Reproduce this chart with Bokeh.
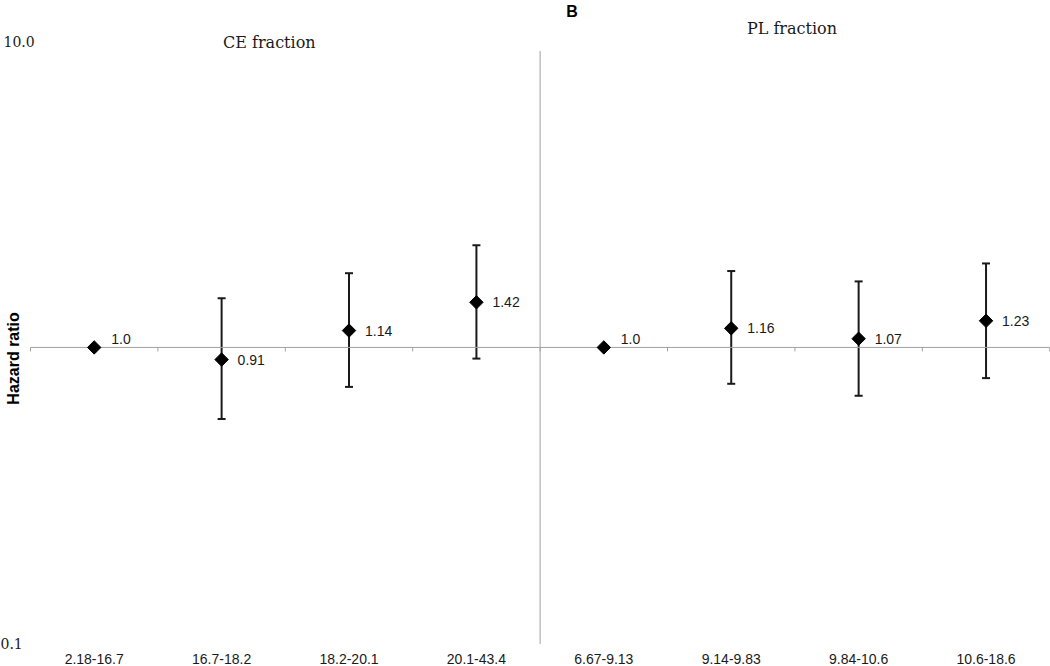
import numpy as np
from bokeh.plotting import figure
from bokeh.models import ColumnDataSource, Whisker, TeeHead, Range1d
from bokeh.core.properties import value
from bokeh.embed import file_html
from bokeh.resources import INLINE

# ---------------- data ----------------
categories = ["2.18-16.7", "16.7-18.2", "18.2-20.1", "20.1-43.4",
              "6.67-9.13", "9.14-9.83", "9.84-10.6", "10.6-18.6"]
hazard_ratio = [1.0, 0.91, 1.14, 1.42, 1.0, 1.16, 1.07, 1.23]
hr_labels = ["1.0", "0.91", "1.14", "1.42", "1.0", "1.16", "1.07", "1.23"]
ci_lower = [None, 0.574, 0.736, 0.917, None, 0.754, 0.687, 0.788]
ci_upper = [None, 1.466, 1.78, 2.21, None, 1.81, 1.67, 1.92]
group_titles = ["CE fraction", "PL fraction"]
group_size = 4
y_ticks = [10.0, 0.1]
y_tick_labels = ["10.0", "0.1"]
reference_value = 1.0
panel_label = "B"

# ---------------- layout ----------------
SANS = value("Liberation Sans")
SERIF = value("DejaVu Serif")
X_START, X_END = -0.2355, 8.006
Y_START, Y_END = 0.0839, 14.80

n = len(categories)
xc = [i + 0.5 for i in range(n)]
bounds = list(range(n + 1))

p = figure(width=1050, height=666, y_axis_type="log",
           x_range=Range1d(X_START, X_END), y_range=Range1d(Y_START, Y_END),
           x_axis_location=None, y_axis_location=None,
           min_border=0, toolbar_location=None, output_backend="svg",
           outline_line_color=None)
p.xgrid.visible = False
p.ygrid.visible = False

# reference axis at HR = 1 with tick marks at category boundaries
p.segment(x0=[bounds[0]], y0=[reference_value], x1=[bounds[-1]], y1=[reference_value],
          line_color="#a0a0a0", line_width=1)
p.ray(x=bounds, y=[reference_value] * len(bounds), length=4, length_units="screen",
      angle=-np.pi / 2, line_color="#a0a0a0", line_width=1)

# separator between the two groups
p.segment(x0=[group_size], y0=[max(y_ticks)], x1=[group_size], y1=[min(y_ticks)],
          line_color="#a0a0a0", line_width=1)

# error bars
ci_idx = [i for i in range(n) if ci_lower[i] is not None]
ci_src = ColumnDataSource(dict(x=[xc[i] for i in ci_idx],
                               lo=[ci_lower[i] for i in ci_idx],
                               hi=[ci_upper[i] for i in ci_idx]))
p.add_layout(Whisker(base="x", lower="lo", upper="hi", source=ci_src,
                     line_color="#1a1a1a", line_width=2,
                     upper_head=TeeHead(size=8, line_color="#1a1a1a", line_width=2),
                     lower_head=TeeHead(size=8, line_color="#1a1a1a", line_width=2)))

# points
p.scatter(x=xc, y=hazard_ratio, marker="square", size=9.5, angle=np.pi / 4,
          fill_color="black", line_color="black")

# value labels
ref_idx = [i for i in range(n) if ci_lower[i] is None]
p.text(x=[xc[i] for i in ref_idx], y=[hazard_ratio[i] for i in ref_idx],
       text=[hr_labels[i] for i in ref_idx], x_offset=17, y_offset=-8,
       text_font=SANS, text_font_size="14px", text_color="#1a1a1a",
       text_align="left", text_baseline="middle")
p.text(x=[xc[i] for i in ci_idx], y=[hazard_ratio[i] for i in ci_idx],
       text=[hr_labels[i] for i in ci_idx], x_offset=16, y_offset=0,
       text_font=SANS, text_font_size="14px", text_color="#1a1a1a",
       text_align="left", text_baseline="middle")

# category labels
p.text(x=xc, y=[min(y_ticks)] * n, text=categories, y_offset=15,
       text_font=SANS, text_font_size="14px", text_color="#1a1a1a",
       text_align="center", text_baseline="middle")

# y tick labels (left aligned at the page edge)
p.text(x=[X_START, X_START], y=y_ticks, text=y_tick_labels,
       x_offset=[3, 0], y_offset=[-9, 0],
       text_font=SERIF, text_font_size="14px", text_color="#1a1a1a",
       text_align="left", text_baseline="middle")

# group titles
gx = [group_size * g + group_size / 2 for g in range(len(group_titles))]
p.text(x=gx, y=[max(y_ticks)] * len(gx), text=group_titles,
       x_offset=[-16, -3], y_offset=[-8, -22],
       text_font=SERIF, text_font_size="16px", text_color="#1a1a1a",
       text_align="center", text_baseline="middle")

# y axis title
p.text(x=[X_START], y=[reference_value], text=["Hazard ratio"], angle=np.pi / 2,
       x_offset=13, y_offset=11,
       text_font=SANS, text_font_size="16px", text_font_style="bold",
       text_color="black", text_align="center", text_baseline="middle")

# panel label
p.text(x=[group_size], y=[Y_END], text=[panel_label], x_offset=32, y_offset=2,
       text_font=SANS, text_font_size="16px", text_font_style="bold",
       text_color="black", text_align="center", text_baseline="top")

open("out.html", "w").write(file_html(p, INLINE))
